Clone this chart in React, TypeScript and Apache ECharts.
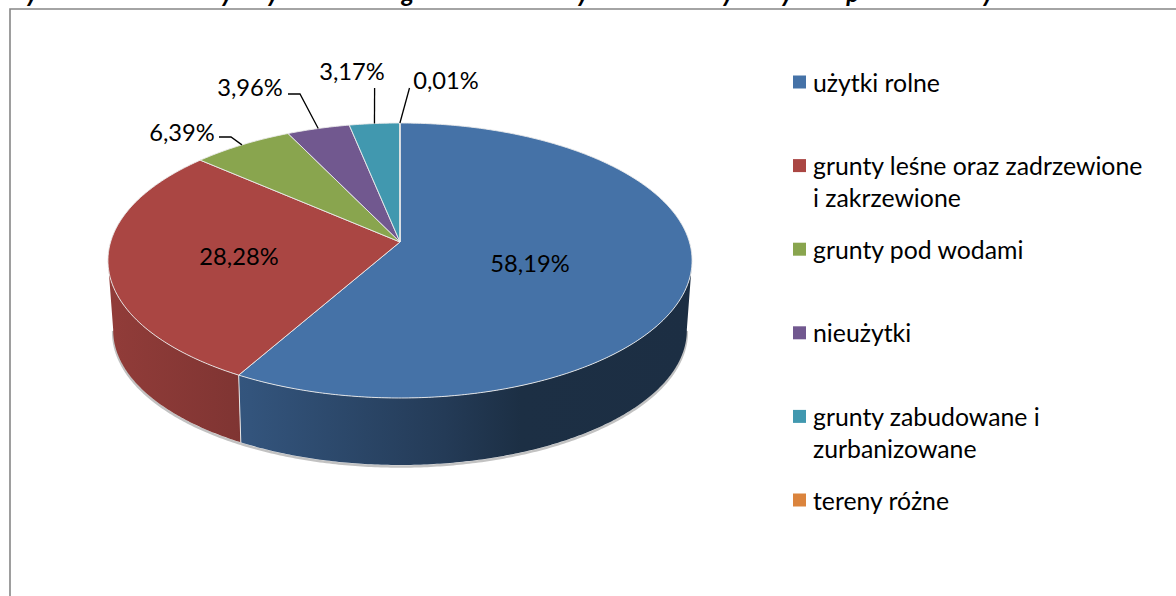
import React, { useEffect, useRef } from "react";
import * as echarts from "echarts";

const CATEGORIES = [
  "użytki rolne",
  "grunty leśne oraz zadrzewione",
  "grunty pod wodami",
  "nieużytki",
  "grunty zabudowane i",
  "tereny różne",
];
const VALUES = [58.19, 28.28, 6.39, 3.96, 3.17, 0.01];
const LABELS = ["58,19%", "28,28%", "6,39%", "3,96%", "3,17%", "0,01%"];
const COLORS = ["#4572A7", "#AA4643", "#89A54E", "#71588F", "#4198AF", "#DB843D"];
const LEGEND_SECOND_LINES: [string, number][] = [
  ["i zakrzewione", 197],
  ["zurbanizowane", 448],
];
// label centres, and the bend of each leader line (null: no leader)
const LABEL_POS: [number, number][] = [
  [530, 263],
  [239, 256],
  [182, 132],
  [250, 87],
  [352, 71],
  [446, 80],
];
const LEADERS: ([number, number][] | null)[] = [
  null,
  null,
  [[219, 137], [231, 137]],
  [[288, 94], [300, 94]],
  [[374.6, 88]],
  [[409.5, 88]],
];
// The only visible remains of the cropped heading: descenders at the top edge
const HEADING_DESCENDERS: [string, number][] = [
  ["y", 32], ["y", 227], ["y", 273], ["g", 408], ["y", 583],
  ["y", 728], ["y", 787], ["p", 853], ["y", 988],
];

const FONT = "Lato";
const FS = 23.7;
const LEGEND_FS = 24.8;
const CX = 400;
const TOP = { cy: 242, a: 289.4, b: 135, k: 0.1345 };
const BOTTOM = { cy: 311.5, a: 284, b: 132, k: 0.14 };
const TOTAL = VALUES.reduce((s, v) => s + v, 0);

function project(d: typeof TOP, t: number): [number, number] {
  const w = 1 + d.k * Math.cos(t);
  return [CX + (d.a * Math.sin(t)) / w, d.cy - (d.b * Math.cos(t)) / w];
}
function arc(d: typeof TOP, t0: number, t1: number): [number, number][] {
  const n = Math.max(2, Math.ceil(Math.abs(t1 - t0) / 0.01));
  const out: [number, number][] = [];
  for (let i = 0; i <= n; i++) out.push(project(d, t0 + ((t1 - t0) * i) / n));
  return out;
}
function shade(hex: string, f: number) {
  const n = parseInt(hex.slice(1), 16);
  const c = [(n >> 16) & 255, (n >> 8) & 255, n & 255].map((v) => Math.round(v * f));
  return `rgb(${c[0]},${c[1]},${c[2]})`;
}
function sideFill(color: string) {
  const x0 = 110;
  const x1 = 692;
  const stop = (x: number, f: number) => ({ offset: (x - x0) / (x1 - x0), color: shade(color, f) });
  return new echarts.graphic.LinearGradient(
    x0, 0, x1, 0,
    [stop(110, 0.85), stop(250, 0.74), stop(444, 0.52), stop(521, 0.41), stop(692, 0.4)],
    true,
  );
}

function sliceRender(index: number) {
  return (_params: any, api: any) => {
    const value = api.value(0) as number;
    const before = VALUES.slice(0, index).reduce((s, v) => s + v, 0);
    const t0 = (before / TOTAL) * Math.PI * 2;
    const t1 = t0 + (value / TOTAL) * Math.PI * 2;
    const mid = (t0 + t1) / 2;
    const children: any[] = [];

    const visFrom = Math.acos(-TOP.k);
    const visTo = Math.PI * 2 - visFrom;
    const s0 = Math.max(t0, visFrom);
    const s1 = Math.min(t1, visTo);
    if (s1 > s0) {
      const lower = arc(BOTTOM, s0, s1);
      children.push({
        type: "polyline",
        shape: { points: lower.map(([x, y]) => [x, y + 1.5]) },
        style: { fill: "none", stroke: "rgba(110,110,110,0.42)", lineWidth: 2.5 },
      });
      children.push({
        type: "polygon",
        shape: { points: [...arc(TOP, s0, s1), ...lower.slice().reverse()] },
        style: { fill: sideFill(COLORS[index]), stroke: "none" },
      });
      if (t0 >= visFrom) {
        children.push({
          type: "line",
          shape: {
            x1: project(TOP, t0)[0], y1: project(TOP, t0)[1],
            x2: project(BOTTOM, t0)[0], y2: project(BOTTOM, t0)[1],
          },
          style: { stroke: "#e6e6e6", lineWidth: 1 },
        });
      }
    }
    children.push({
      type: "polygon",
      shape: { points: [[CX, TOP.cy], ...arc(TOP, t0, t1)] },
      style: { fill: COLORS[index], stroke: "rgba(235,235,235,0.9)", lineWidth: 1 },
    });
    const bend = LEADERS[index];
    if (bend) {
      children.push({
        type: "polyline",
        shape: { points: [...bend, project(TOP, mid)] },
        style: { fill: "none", stroke: "#000", lineWidth: 1.3 },
      });
    }
    children.push({
      type: "text",
      x: LABEL_POS[index][0],
      y: LABEL_POS[index][1],
      style: {
        text: LABELS[index],
        fontFamily: FONT,
        fontSize: FS,
        fill: "#000",
        align: "center",
        verticalAlign: "middle",
      },
    });
    return { type: "group", children };
  };
}

export default function App() {
  const ref = useRef<HTMLDivElement>(null);
  useEffect(() => {
    document.body.style.margin = "0";
    const chart = echarts.init(ref.current!, null, { renderer: "svg" });
    chart.setOption({
      animation: false,
      backgroundColor: "#fff",
      legend: {
        orient: "vertical",
        left: 793,
        top: 65,
        itemWidth: 13,
        itemHeight: 13,
        itemGap: 49.6,
        icon: "rect",
        selectedMode: false,
        padding: 0,
        data: CATEGORIES,
        textStyle: {
          fontFamily: FONT,
          fontSize: LEGEND_FS,
          color: "#000",
          lineHeight: 30,
          padding: [0, 0, 4, 2],
        },
      },
      graphic: [
        {
          type: "rect",
          shape: { x: 10, y: 9, width: 2000, height: 2000 },
          style: { fill: "none", stroke: "#868686", lineWidth: 1.6 },
          silent: true,
        },
        ...HEADING_DESCENDERS.map(([ch, x]) => ({
          type: "text",
          x,
          y: -20.5,
          style: {
            text: ch,
            fontFamily: FONT,
            fontSize: 25,
            fontWeight: "bold",
            fontStyle: "italic",
            fill: "#000",
            align: "center",
            verticalAlign: "top",
          },
          silent: true,
        })),
        ...LEGEND_SECOND_LINES.map(([text, y]) => ({
          type: "text",
          x: 813,
          y,
          style: {
            text,
            fontFamily: FONT,
            fontSize: LEGEND_FS,
            fill: "#000",
            align: "left",
            verticalAlign: "middle",
          },
          silent: true,
        })),
      ],
      series: CATEGORIES.map((name, i) => ({
        type: "custom",
        name,
        coordinateSystem: "none",
        clip: false,
        silent: true,
        itemStyle: { color: COLORS[i] },
        data: [[VALUES[i]]],
        renderItem: sliceRender(i),
      })),
    });
    return () => chart.dispose();
  }, []);
  return <div ref={ref} style={{ width: 1176, height: 596 }} />;
}
